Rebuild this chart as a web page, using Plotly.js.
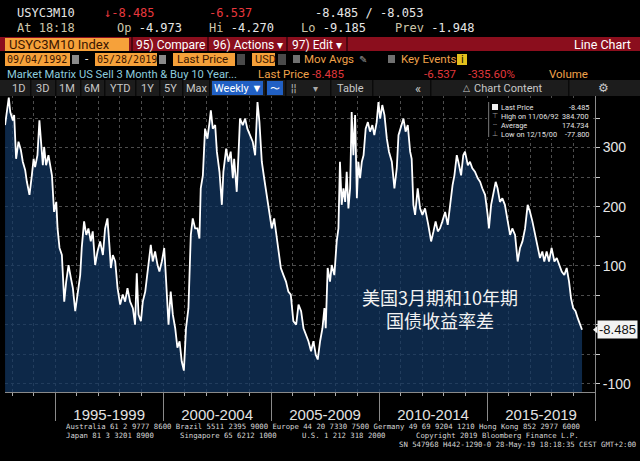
<!DOCTYPE html>
<html>
<head>
<meta charset="utf-8">
<script src="https://cdn.plot.ly/plotly-3.0.1.min.js"></script>
<style>html,body{margin:0;padding:0;background:#000;}#chart{width:640px;height:461px;}</style>
</head>
<body>
<div id="chart"></div>
<script>
// ---- data ----
const yearPos = [
1992.68,1992.85,1992.92,1993.04,1993.10,1993.19,1993.30,1993.41,1993.50,1993.61,1993.69,1993.81,1993.92,
1994.00,1994.07,1994.18,1994.27,1994.34,1994.43,1994.49,1994.58,1994.69,1994.77,1994.85,1994.95,
1995.05,1995.11,1995.20,1995.31,1995.42,1995.51,1995.62,1995.73,1995.82,1995.93,
1996.03,1996.16,1996.23,1996.34,1996.44,1996.54,1996.65,1996.74,1996.85,1996.96,
1997.08,1997.21,1997.31,1997.42,1997.52,1997.58,1997.67,1997.78,1997.89,
1998.01,1998.13,1998.24,1998.35,1998.47,1998.60,1998.70,1998.78,1998.86,1998.97,
1999.06,1999.17,1999.27,1999.43,1999.52,1999.63,1999.74,1999.83,1999.94,
2000.05,2000.14,2000.25,2000.35,2000.45,2000.56,2000.66,2000.76,2000.86,2000.96,
2001.06,2001.17,2001.28,2001.37,2001.48,2001.59,2001.68,2001.74,2001.84,2001.94,
2002.05,2002.15,2002.21,2002.30,2002.41,2002.49,2002.61,2002.72,2002.79,2002.92,
2003.02,2003.13,2003.23,2003.29,2003.41,2003.49,2003.56,2003.69,2003.80,2003.90,
2004.03,2004.15,2004.26,2004.37,2004.46,2004.57,2004.68,2004.80,2004.92,
2005.03,2005.14,2005.23,2005.34,2005.45,2005.57,2005.69,2005.80,2005.91,
2006.03,2006.16,2006.27,2006.39,2006.50,2006.61,2006.73,2006.85,2006.96,
2007.07,2007.16,2007.27,2007.38,2007.47,2007.53,2007.62,2007.73,2007.81,2007.93,
2008.04,2008.12,2008.19,2008.27,2008.35,2008.43,2008.50,2008.58,2008.66,2008.73,2008.81,2008.89,2008.97,
2009.04,2009.12,2009.20,2009.28,2009.38,2009.48,2009.58,2009.69,2009.78,2009.89,2009.97,
2010.05,2010.15,2010.25,2010.36,2010.46,2010.59,2010.71,2010.82,2010.90,
2011.02,2011.13,2011.23,2011.33,2011.44,2011.51,2011.59,2011.67,2011.79,2011.90,
2012.01,2012.13,2012.28,2012.41,2012.52,2012.62,2012.72,2012.82,2012.93,
2013.06,2013.18,2013.29,2013.40,2013.49,2013.60,2013.67,2013.80,2013.90,2013.98,
2014.11,2014.21,2014.32,2014.44,2014.57,2014.68,2014.78,2014.91,
2015.03,2015.09,2015.19,2015.29,2015.40,2015.49,2015.60,2015.71,2015.83,2015.96,
2016.07,2016.17,2016.30,2016.42,2016.53,2016.64,2016.76,2016.88,2016.99,
2017.10,2017.22,2017.35,2017.45,2017.56,2017.65,2017.76,2017.87,2017.99,
2018.12,2018.23,2018.33,2018.46,2018.58,2018.69,2018.80,2018.89,2018.99,
2019.10,2019.20,2019.31,2019.40
];
const spread = [
338,384.7,360,346,355,281,310,296,276,262,242,220,253,
281,267,287,346,315,270,301,270,287,265,253,191,
208,163,130,118,39,73,101,79,62,23,
51,84,130,175,152,163,141,158,101,124,
141,118,163,180,130,96,118,107,62,
34,51,39,62,39,28,0,87,17,6,
39,56,84,135,107,124,101,90,107,
130,73,0,56,17,-6,-39,-28,-62,-77.8,
-6,28,152,180,163,163,146,231,253,332,
315,343,363,332,338,293,259,203,259,298,
276,293,248,281,225,287,349,338,349,332,
321,310,287,377,343,276,248,220,191,
163,180,158,124,96,84,73,56,51,
6,0,34,23,-6,-17,-28,-45,-28,
-51,-59,-28,-6,28,-6,96,73,101,84,
141,163,276,203,231,208,259,197,231,360,287,355,214,
276,248,276,287,332,343,327,338,321,343,377,
349,372,355,315,293,276,231,265,321,
338,349,327,338,293,281,203,186,231,197,
186,197,169,141,158,175,158,163,175,
191,169,203,236,253,287,276,253,287,293,
270,276,265,259,248,242,231,220,
186,163,203,220,242,231,208,214,203,175,
152,163,152,107,130,141,163,203,191,
175,152,130,113,124,107,124,107,130,
107,113,101,90,84,96,73,45,28,
23,11,0,-8.485
];
const periodLabels = ['1995-1999','2000-2004','2005-2009','2010-2014','2015-2019'];
const periodMid = ['1997-07-02','2002-07-02','2007-07-02','2012-07-02','2017-07-02'];
const yTickVals = [-100,-50,0,50,100,150,200,250,300,350];
const yTickText = ['-100','','','','100','','200','','300',''];
const lastPrice = -8.485;
const statsLabels = ['Last Price','High on 11/06/92','Average','Low on 12/15/00'];
const statsValues = ['-8.485','384.700','174.734','-77.800'];

// ---- helpers ----
function decToDate(d){
  const y=Math.floor(d); const s=Date.UTC(y,0,1), e=Date.UTC(y+1,0,1);
  return new Date(s+(d-y)*(e-s)).toISOString().slice(0,10);
}
const dates = yearPos.map(decToDate);
const X0='1992-09-04', X1='2020-01-01';
const Y0=-114, Y1=389;

const L=5,T=95,W=590,H=297;
const px = x => (x-L)/W;
const py = y => (T+H-y)/H;
const ann=[], shp=[];
function txt(x,y,text,o){
  o=o||{};
  ann.push({xref:'paper',yref:'paper',x:px(x),y:py(y),text:text,showarrow:false,
    xanchor:o.anchor||'left',yanchor:'middle',borderpad:0,align:o.align||'center',
    font:{family:o.family||'Roboto, Arial, sans-serif',size:o.size||12,color:o.color||'#e6e6e6'}});
}
function rect(x0,y0,x1,y1,c){
  shp.push({type:'rect',xref:'paper',yref:'paper',x0:px(x0),x1:px(x1),y0:py(y1),y1:py(y0),
    fillcolor:c,line:{width:0},layer:'above'});
}
const MONO='DejaVu Sans Mono, monospace';
const ORANGE='#f6a13a', DARK='#3b1600', RED='#e8383d', TAN='#cdc6aa', ORTXT='#f0a24a';

// Row 1
txt(16,13,'USYC3M10',{family:MONO,size:12});
txt(103,13,'↓-8.485',{family:MONO,size:12,color:RED});
txt(208,13,'-6.537',{family:MONO,size:12,color:RED});
txt(314,13,'-8.485 / -8.053',{family:MONO,size:12});
// Row 2
txt(16,28,'At 18:18',{family:MONO,size:12,color:TAN});
txt(116,28,'Op <span style="color:#e6e6e6">-4.973</span>',{family:MONO,size:12,color:TAN});
txt(208,28,'Hi <span style="color:#e6e6e6">-4.270</span>',{family:MONO,size:12,color:TAN});
txt(300,28,'Lo <span style="color:#e6e6e6">-9.185</span>',{family:MONO,size:12,color:TAN});
txt(394,28,'Prev <span style="color:#e6e6e6">-1.948</span>',{family:MONO,size:12,color:TAN});
// Row 3 red bar
rect(0,37,640,51,'#8b0e1d');
rect(5,38,129,51,ORANGE);
[131,207,286,346].forEach(x=>rect(x,37,x+2,51,'#4c0610'));
txt(8,44.5,'USYC3M10 Index',{size:13,color:DARK});
txt(135,44.5,'95) Compare',{size:12,color:'#fff'});
txt(212,44.5,'96) Actions ▾',{size:12,color:'#fff'});
txt(291,44.5,'97) Edit ▾',{size:12,color:'#fff'});
txt(632,44.5,'Line Chart',{size:12.5,color:'#fff',anchor:'right'});
// Row 4
rect(5,53,70,66,ORANGE); rect(95,53,157,66,ORANGE); rect(173,53,235,66,ORANGE); rect(252,53,275,66,ORANGE);
rect(72,55,79,64,'#8a8a8a'); rect(159,55,166,64,'#8a8a8a');
rect(237,54,245,65,'#4a4a4a'); rect(278,54,286,65,'#4a4a4a');
rect(293,55,300,63,'#707070'); rect(388,55,395,63,'#707070');
rect(457,54,467,65,'#e3c01c');
txt(6,59.5,'09/04/1992',{family:MONO,size:10,color:DARK});
txt(84,59.5,'-',{size:12,color:'#ddd'});
txt(96,59.5,'05/28/2019',{family:MONO,size:10,color:DARK});
txt(176,59.5,'Last Price',{size:11.5,color:DARK});
txt(254,59.5,'USD',{size:11,color:DARK});
txt(303,59.5,'Mov Avgs',{size:11.5,color:ORTXT});
txt(358,59.5,'✎',{size:10,color:'#999'});
txt(400,59.5,'Key Events',{size:11.5,color:ORTXT});
txt(462,59.5,'i',{size:10,color:'#000',anchor:'center',family:'DejaVu Sans, sans-serif'});
// Row 5
txt(6,74,'Market Matrix US Sell 3 Month &amp; Buy 10 Year...',{size:11.2,color:'#8ccbdc'});
txt(257,74,'Last Price <span style="color:#e0383c">-8.485</span>',{size:11.5,color:ORTXT});
txt(423,74,'-6.537',{size:11.5,color:'#e0383c'});
txt(467,74,'-335.60%',{size:11.5,color:'#e0383c'});
txt(548,74,'Volume',{size:11.5,color:ORTXT});
// Row 6 toolbar
rect(0,80,640,96,'#1c1c1c');
[30,55,80,104,135,159,182,209,265,285,330,372,430,568].forEach(x=>rect(x,80,x+1.5,96,'#0a0a0a'));
[['1D',18],['3D',42],['1M',67],['6M',92],['YTD',120],['1Y',147],['5Y',170],['Max',197]].forEach(a=>txt(a[1],88,a[0],{size:11,color:'#c8c8c8',anchor:'center'}));
rect(212,81,263,95,'#2160c4'); rect(267,81,283,95,'#2160c4');
txt(238,88,'Weekly ▼',{size:11,color:'#fff',anchor:'center'});
txt(275,88,'〜',{size:10,color:'#fff',anchor:'center',family:'DejaVu Sans, sans-serif'});
txt(293,88,'¦¦',{size:11,color:'#aaa',anchor:'center'});
txt(315,88,'▾',{size:10,color:'#aaa',anchor:'center'});
txt(350,88,'Table',{size:11,color:'#c8c8c8',anchor:'center'});
txt(418,88,'«',{size:13,color:'#c8c8c8',anchor:'center'});
txt(466,88,'△',{size:9,color:'#c8c8c8',anchor:'center',family:'DejaVu Sans, sans-serif'});
txt(473,88,'Chart Content',{size:11,color:'#c8c8c8'});
txt(603,88,'⚙',{size:12,color:'#c8c8c8',anchor:'center',family:'DejaVu Sans, sans-serif'});

// Legend/statistics box in the plot
rect(487,100,592,139,'#000');
rect(488,102,489.2,137,'#666');
rect(492,104,498,110,'#f0f0f0');
txt(494.5,116,'⊤',{size:7,color:'#999',anchor:'center',family:'DejaVu Sans, sans-serif'});
txt(494.5,125,'--',{size:7,color:'#999',anchor:'center'});
txt(494.5,134,'⊥',{size:7,color:'#999',anchor:'center',family:'DejaVu Sans, sans-serif'});
statsLabels.forEach((s,i)=>{
  txt(500,107+9*i,s,{size:7.3,color:'#e4e4e4'});
  txt(590,107+9*i,statsValues[i],{size:7.3,color:'#e4e4e4',anchor:'right'});
});

// Chinese caption
txt(440,308.5,'美国3月期和10年期<br>国债收益率差',{family:'Noto Sans CJK SC, sans-serif',size:18,color:'#f2f2f2',anchor:'center'});

// Footer
const FM={family:MONO,size:7.3,color:'#d6d6d6'};
txt(65,426.5,'Australia 61 2 9777 8600 Brazil 5511 2395 9000 Europe 44 20 7330 7500 Germany 49 69 9204 1210 Hong Kong 852 2977 6000',FM);
txt(65,435.5,'Japan 81 3 3201 8900',FM);
txt(179,435.5,'Singapore 65 6212 1000',FM);
txt(301,435.5,'U.S. 1 212 318 2000',FM);
txt(415,435.5,'Copyright 2019 Bloomberg Finance L.P.',FM);
txt(637,444.5,'SN 547968 H442-1290-0 28-May-19 18:18:35 CEST GMT+2:00',Object.assign({anchor:'right'},FM));

// Last price tag
ann.push({xref:'paper',yref:'y',x:px(597),y:lastPrice,text:'-8.485',showarrow:false,xanchor:'left',yanchor:'middle',
  bgcolor:'#f2f2f2',borderpad:1,font:{family:'Liberation Sans, Arial, sans-serif',size:13,color:'#111'}});
shp.push({type:'path',xref:'paper',yref:'y',
  path:`M ${px(593)},${lastPrice} L ${px(597.5)},${lastPrice+6.5} L ${px(597.5)},${lastPrice-6.5} Z`,
  fillcolor:'#f2f2f2',line:{width:0}});

const traces = [
  {x:[dates[0],dates[dates.length-1]],y:[Y0,Y0],mode:'lines',line:{width:0},hoverinfo:'skip',showlegend:false},
  {x:dates,y:spread,mode:'lines',fill:'tonexty',fillcolor:'rgba(18,56,100,0.72)',
   line:{color:'#ffffff',width:1.8},showlegend:false},
  {x:[],y:[],xaxis:'x2',mode:'lines',showlegend:false},
  {x:[],y:[],xaxis:'x3',mode:'lines',showlegend:false}
];

const layout = {
  width:640,height:461,
  margin:{l:L,r:45,t:T,b:69},
  paper_bgcolor:'#000',plot_bgcolor:'#000',
  showlegend:false,
  xaxis:{type:'date',range:[X0,X1],tickvals:periodMid,ticktext:periodLabels,
    ticks:'outside',ticklen:9,tickcolor:'rgba(0,0,0,0)',
    tickfont:{family:'Liberation Sans, Arial, sans-serif',size:15,color:'#e2e2e2'},
    showgrid:false,showline:true,linecolor:'#8a8a8a',linewidth:1,zeroline:false,fixedrange:true},
  xaxis2:{type:'date',overlaying:'x',anchor:'y',side:'bottom',range:[X0,X1],
    tick0:'1993-01-01',dtick:'M12',ticks:'outside',ticklen:3,tickcolor:'#aaaaaa',
    showticklabels:false,showgrid:true,gridcolor:'#4d4d4d',griddash:'dot',gridwidth:1,showline:false,zeroline:false},
  xaxis3:{type:'date',overlaying:'x',anchor:'y',side:'bottom',range:[X0,X1],
    tick0:'1995-01-01',dtick:'M60',ticks:'outside',ticklen:28,tickcolor:'#8a8a8a',tickwidth:1,
    showticklabels:false,showgrid:false,showline:false,zeroline:false},
  yaxis:{side:'right',range:[Y0,Y1],tickvals:yTickVals,ticktext:yTickText,
    ticks:'outside',ticklen:4,tickcolor:'#cccccc',
    tickfont:{family:'Liberation Sans, Arial, sans-serif',size:14,color:'#e6e6e6'},
    showgrid:true,gridcolor:'#4d4d4d',griddash:'dot',gridwidth:1,
    showline:true,linecolor:'#8a8a8a',linewidth:1,zeroline:false,fixedrange:true},
  annotations:ann,
  shapes:shp
};
Plotly.newPlot('chart',traces,layout,{displayModeBar:false,staticPlot:true});
</script>
</body>
</html>
